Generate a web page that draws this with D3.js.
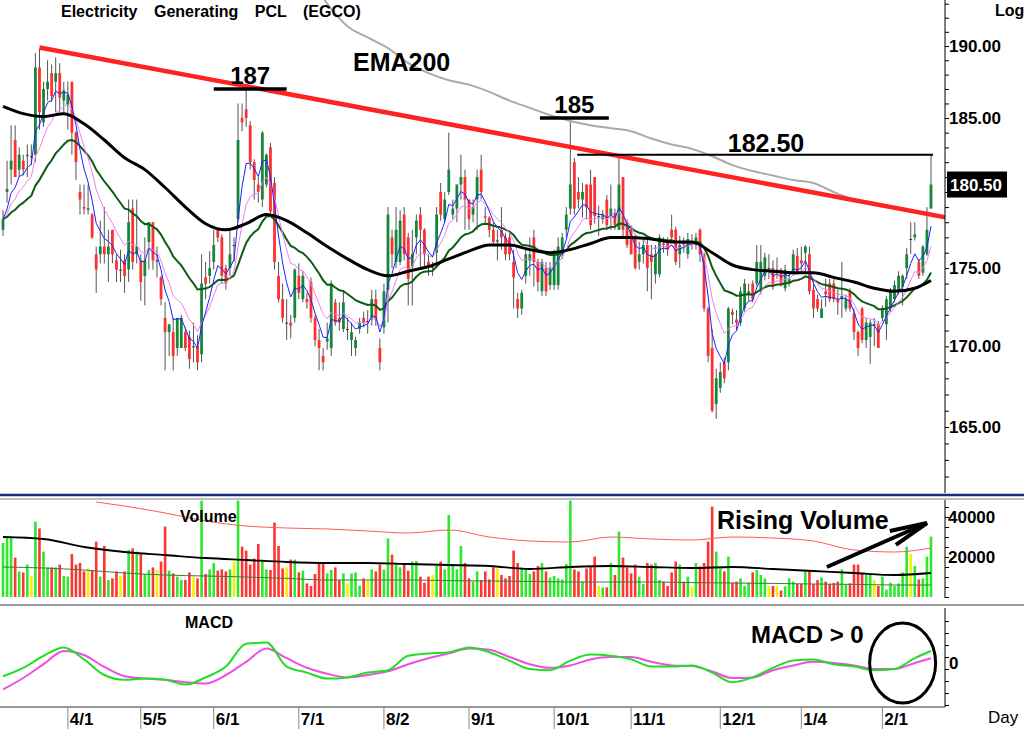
<!DOCTYPE html>
<html>
<head>
<meta charset="utf-8">
<script src="https://cdn.jsdelivr.net/npm/d3@7"></script>
<style>
html, body { margin: 0; padding: 0; background: #fff; }
svg { display: block; font-family: "Liberation Sans", Arial, sans-serif; }
</style>
</head>
<body>
<script>
// daily OHLC, one entry per trading day
const opens = [
177.5,180.0,181.5,183.5,181.5,182.1,182.4,182.4,182.5,188.5,184.7,187.0,188.1,187.5,188.1,186.2,185.9,187.5,184.0,180.0,
179.0,178.9,178.5,175.9,175.9,176.4,175.9,177.5,175.5,174.9,175.5,174.9,178.9,175.9,175.5,174.5,176.7,178.0,175.5,174.4,
171.8,170.9,170.9,169.9,169.9,170.9,170.6,170.0,170.0,169.5,174.4,174.5,175.4,177.5,177.0,175.0,175.0,176.5,178.2,185.0,
185.6,184.5,182.0,180.5,179.5,180.5,183.0,180.6,174.5,173.0,171.5,171.5,171.8,174.5,173.0,173.0,174.1,171.8,170.4,169.4,
170.3,169.9,172.8,171.8,171.1,171.1,170.4,169.9,171.1,171.8,171.6,171.7,173.0,169.9,171.2,173.6,177.0,175.4,175.4,178.5,
177.0,175.1,177.0,178.5,177.5,175.4,175.1,176.0,180.0,178.2,180.0,178.5,178.9,180.5,181.0,179.5,178.5,179.5,181.5,178.4,
178.3,177.5,176.8,177.5,177.0,177.0,175.4,173.0,172.4,174.5,175.5,177.0,175.4,173.5,175.0,173.9,173.9,173.9,175.9,177.5,
178.9,182.0,180.0,179.5,180.5,180.5,181.0,178.4,178.2,179.5,178.5,178.6,177.5,181.0,178.0,177.5,176.9,175.4,175.9,176.5,
175.9,174.6,174.6,176.6,176.7,177.5,177.5,175.9,176.6,175.9,176.7,176.5,177.5,175.9,172.4,169.9,166.4,167.4,169.0,169.0,
172.2,171.7,171.5,172.4,173.3,174.0,174.0,173.5,174.5,175.0,175.0,174.9,174.9,173.7,174.1,174.7,175.8,175.5,176.0,175.9,
173.6,173.0,171.8,173.5,174.0,174.0,173.0,173.0,172.4,173.5,172.1,170.9,172.4,170.4,170.6,171.4,171.4,171.8,171.4,172.4,
173.0,173.5,173.8,175.0,176.9,177.0,175.4,174.7,175.9,178.9
];
const highs = [
178.8,182.1,184.5,184.5,183.0,182.5,183.2,183.2,189.5,189.8,187.5,189.0,188.7,189.2,188.8,187.5,187.5,187.5,184.1,180.5,
180.5,180.5,178.6,176.4,178.1,179.0,177.5,177.5,175.9,176.2,175.9,179.5,179.5,179.5,175.9,177.0,178.0,178.0,176.4,174.5,
172.8,171.4,171.8,171.8,172.0,171.2,171.0,171.5,170.7,175.9,175.4,176.1,177.5,177.5,177.2,175.2,177.5,177.0,186.0,186.0,
187.2,184.8,182.2,181.0,184.1,182.6,183.3,181.0,175.4,174.0,173.0,172.0,175.0,175.3,174.8,173.4,174.4,172.0,171.1,169.9,
171.5,174.2,173.0,172.8,173.6,171.8,171.5,170.6,171.8,172.2,172.3,173.6,173.6,170.5,174.0,179.0,177.5,179.0,178.8,179.0,
177.3,177.5,178.5,179.0,177.6,175.9,175.4,179.0,180.6,180.0,184.0,179.5,180.5,182.5,181.5,179.5,179.5,181.5,182.5,179.0,
178.4,178.0,177.5,179.0,177.3,177.3,176.2,173.4,173.6,176.2,177.0,177.5,175.6,175.6,175.4,175.4,176.2,177.0,177.3,179.0,
185.0,182.3,181.0,180.6,180.5,181.5,181.0,179.1,178.8,179.8,180.5,178.9,182.3,181.0,178.2,177.8,177.2,176.7,177.0,177.1,
176.5,176.5,177.2,177.0,177.0,178.5,177.7,177.1,177.0,177.3,177.2,177.3,177.6,176.0,172.5,171.1,168.6,169.0,169.3,172.5,
172.4,172.3,173.8,174.3,174.0,174.2,176.5,176.5,176.0,175.9,175.5,175.7,175.0,175.2,174.6,176.2,176.3,176.4,176.5,176.4,
174.1,173.3,173.0,174.3,174.3,174.3,173.6,175.4,173.3,173.7,172.4,171.0,172.5,171.8,171.7,171.8,171.6,172.6,173.2,173.7,
174.2,174.8,174.6,176.3,178.0,178.0,175.6,176.5,179.0,182.5
];
const lows = [
177.1,179.3,180.5,181.0,181.0,181.1,181.0,181.8,182.0,184.2,184.4,186.2,186.1,185.4,185.4,185.3,184.2,182.5,180.8,178.5,
178.5,178.5,176.9,173.4,175.3,175.3,174.1,175.3,174.1,174.1,173.4,174.1,174.9,175.3,172.9,172.6,174.9,174.9,174.4,172.6,
168.5,169.4,168.5,169.4,169.9,169.7,168.6,169.0,168.5,169.0,173.0,174.0,174.9,176.7,174.0,173.6,174.5,175.4,178.0,184.1,
184.4,181.5,179.5,179.3,179.0,180.3,178.5,174.9,172.8,171.5,170.4,170.5,171.5,173.0,172.8,172.4,171.5,170.0,168.5,168.5,
169.8,169.4,171.3,171.0,170.9,170.4,169.4,169.4,170.8,171.2,170.8,171.3,171.3,168.5,170.8,171.5,175.0,175.0,175.2,175.5,
172.6,172.6,175.9,175.0,175.1,174.5,174.5,175.0,178.1,178.0,179.8,178.2,178.0,179.5,177.5,177.5,178.0,177.5,179.5,177.9,
177.0,176.5,175.5,176.2,175.5,175.5,172.4,171.8,172.0,174.0,174.5,173.8,173.5,173.2,173.2,173.6,173.6,173.6,175.6,177.0,
178.5,178.5,178.9,178.3,178.2,177.5,177.9,177.1,177.9,177.5,177.5,177.5,177.5,176.9,176.3,175.9,174.9,174.9,175.3,173.5,
173.0,174.0,174.4,176.0,175.8,176.7,175.2,175.0,176.0,175.6,176.2,176.2,175.4,172.2,169.0,165.9,165.5,167.1,167.7,168.5,
171.4,171.0,171.3,172.2,172.9,172.8,173.8,173.3,174.2,174.3,173.6,174.3,173.8,173.5,173.8,174.5,174.6,174.7,174.7,173.3,
171.8,172.2,171.8,172.5,172.8,172.8,172.0,171.8,172.2,172.2,170.4,169.4,170.2,169.9,168.9,170.0,169.9,171.6,170.4,172.2,
172.8,173.3,172.6,174.3,175.9,176.8,174.3,174.5,175.8,178.9
];
const closes = [
178.2,180.2,182.1,181.0,182.5,181.5,182.5,182.4,188.5,185.4,187.0,187.5,186.5,188.1,186.4,186.9,186.6,184.0,182.0,179.5,
178.9,178.9,177.0,174.9,176.4,175.9,176.4,175.9,174.9,174.9,174.5,178.0,175.4,176.4,174.1,175.5,178.0,175.5,175.5,173.0,
170.9,171.4,169.4,171.8,171.8,169.9,169.2,170.0,169.0,174.0,174.0,175.0,176.5,177.0,174.5,174.0,175.9,176.5,183.5,184.7,
185.0,182.0,180.8,180.0,184.0,182.5,178.7,175.4,173.0,171.8,171.5,171.3,174.9,173.4,174.5,172.8,171.8,170.4,169.9,169.0,
170.5,174.0,171.5,171.5,172.8,171.1,170.9,170.4,171.5,171.5,171.6,173.0,171.7,169.0,173.5,178.5,175.9,177.5,178.1,175.9,
174.3,175.9,178.1,177.5,175.9,175.1,175.1,178.5,178.5,179.5,181.5,178.9,180.5,181.0,179.5,178.2,179.0,181.0,180.0,178.3,
177.5,176.7,176.8,177.0,175.9,175.9,174.4,172.4,173.4,175.9,175.9,175.4,174.1,175.4,173.5,175.0,175.9,176.4,177.0,178.5,
180.5,178.9,179.5,180.0,179.0,177.8,178.4,178.4,178.5,177.8,178.9,177.8,180.5,177.5,176.5,175.9,175.0,175.9,176.5,175.0,
175.4,175.9,177.0,176.5,176.2,177.0,175.4,176.5,176.5,176.9,176.7,177.0,175.9,172.4,169.4,166.0,168.0,168.4,168.0,172.4,
172.0,171.5,173.5,174.0,173.5,173.0,175.4,175.4,175.7,175.0,173.8,174.9,174.0,174.9,174.3,175.9,174.7,175.3,176.4,173.5,
172.4,172.4,172.4,173.3,173.0,173.0,172.8,173.2,173.0,172.4,170.9,169.9,170.4,171.5,171.5,171.4,169.9,172.4,173.0,173.5,
173.9,174.5,174.5,175.9,176.9,177.2,174.5,176.4,177.5,180.5
];
const volumes = [
27000,30200,30300,19700,12800,12300,16200,10500,37700,34300,22700,14800,14800,14800,16200,10500,10200,21500,16200,17000,
12800,14300,13500,27700,10200,25500,8500,9300,12800,10500,12800,23500,24300,22700,21800,11500,13500,14800,13500,17700,
35200,13200,11800,10200,8500,8500,12300,10200,9300,48200,11500,13800,17000,13200,13800,12800,13800,17700,48200,25200,
23200,16200,19200,26500,18700,13800,13500,37200,25500,14300,14800,18700,18700,12300,13200,6800,5500,11500,17000,17000,
11800,13500,14800,8500,11800,6800,11800,12300,5700,9300,8500,13800,12800,16200,13800,29300,21200,17200,14800,17000,
13200,17700,18000,10200,7200,10200,11000,15500,17700,13800,41000,16500,13800,25500,17000,9300,7700,12800,8500,12800,
8800,14800,14300,11000,9300,10500,23200,17000,14800,13800,11500,12800,15500,17000,12800,9800,10500,9300,8800,16500,
48200,13800,12800,7700,14300,15500,20200,5500,4800,4800,17000,11000,32700,19700,14800,11800,16200,10200,6500,17000,
16200,17000,8500,7700,5500,12300,17700,16200,7700,10200,5300,17000,15300,17000,27700,45200,22700,14300,12800,20200,
7200,7700,9300,5500,7200,12300,13500,11000,9300,5300,5500,5500,3200,5300,9300,7700,6500,6500,13200,13200,
6500,8500,9800,7700,6500,7000,7700,13800,6500,6800,16200,16200,11500,11000,11500,8500,5500,10200,3700,7200,
5500,6800,12300,25200,21500,15500,8800,9300,20200,30200
];

// sampled indicator lines (bar index -> value)
const lineIdx = [0,5,10,15,20,25,30,35,40,45,50,55,60,65,70,75,80,85,90,95,100,105,110,115,120,
  125,130,135,140,145,150,155,160,165,170,175,180,185,190,195,200,205,210,215,220,225,229];
const maBlack = [185.8,185.3,185.1,185.3,184.6,183.5,182.3,181.5,180.3,179.0,177.9,177.5,177.9,178.5,178.1,
  177.3,176.4,175.6,174.9,174.5,174.8,175.1,175.6,176.1,176.5,176.5,176.2,176.0,176.2,176.6,177.0,177.0,
  176.9,176.7,176.7,176.0,175.2,174.9,174.8,174.7,174.7,174.4,174.1,173.7,173.5,173.7,174.2];
const macdLine = [-1.1,-0.4,0.6,1.3,0.3,-1.0,-1.4,-1.3,-1.4,-1.8,-1.2,-0.3,1.6,1.7,-0.3,-0.8,-1.3,-1.2,-0.8,
  -0.6,0.6,0.8,0.9,1.3,0.9,0.2,-0.5,-0.6,0.2,0.7,0.6,0.3,-0.3,-0.3,-0.2,-0.8,-1.6,-1.2,-0.4,0.2,0.3,-0.1,
  -0.3,-0.6,-0.5,0.4,1.0];
const macdSignal = [-2.2,-1.25,-0.1,1.0,0.67,-0.33,-1.1,-1.3,-1.4,-1.6,-1.7,-1.0,0.1,1.2,0.4,-0.4,-0.9,-1.2,
  -1.0,-0.7,-0.1,0.4,0.8,1.2,1.1,0.5,-0.1,-0.4,-0.2,0.3,0.5,0.5,0.1,-0.2,-0.25,-0.7,-1.25,-1.2,-0.6,-0.2,
  0.1,0.0,-0.2,-0.5,-0.5,0.0,0.4];

const emaIdx = [75,80,85,90,95,100,105,110,115,120,125,130,135,140,145,150,155,160,165,170,175,180,185,190,
  195,200,205,210,215,220,225,229];
const ema200 = [195.4,193.0,191.4,190.6,189.85,188.8,188.1,187.6,187.3,186.8,186.2,185.7,185.2,184.8,184.5,
  184.3,184.1,183.6,183.2,182.9,182.4,181.8,181.4,181.1,180.8,180.6,180.0,179.5,179.2,178.9,178.7,178.6];

const volLineIdx = [0,10,20,30,40,50,60,70,80,90,100,110,120,130,140,150,160,170,180,190,200,210,220,229];
const volAvgBlack = [30000,29000,25000,22500,21000,19500,18500,17500,17000,17000,16500,16000,15500,14000,
  15000,15500,15000,14500,15000,14000,13000,12000,11000,12000];
const volAvgGreen = [15000,14500,13500,12000,11000,10500,10000,9300,8500,8500,8500,8200,8000,7800,7500,7500,
  7500,7200,7000,6800,6500,6300,6000,6000];
const volRedIdx = [23,30,40,50,60,70,80,90,100,110,120,130,140,150,160,170,180,190,200,210,220,229];
const volRed = [47500,45500,42000,38000,35500,34500,34000,33000,32000,33500,30000,28000,27500,30000,29000,
  28500,30000,29500,28000,23500,22500,24500];

const trendIdx = [9, 233];
const trendVal = [189.9, 178.3];

const levelVals = [187, 185, 182.5];
const levelLabels = ['187', '185', '182.50'];
const levelFrom = [52, 132.5, 141.7];
const levelTo = [70, 149.5, 229.5];

const monthIdx = [16, 34, 52, 73, 94, 115, 136, 155, 177, 197, 217];
const monthLabels = ['4/1', '5/5', '6/1', '7/1', '8/2', '9/1', '10/1', '11/1', '12/1', '1/4', '2/1'];
const priceTicks = [165, 170, 175, 185, 190];
const volTicks = [20000, 40000];
const lastPrice = 180.5;

const width = 1024;
const height = 729;
const axisX = 945;

const svg = d3.select('body')
    .append('svg')
    .attr('width', width)
    .attr('height', height);

const defs = svg.append('defs');
const clip = (id, x, y, w, h) => defs.append('clipPath').attr('id', id)
    .append('rect').attr('x', x).attr('y', y).attr('width', w).attr('height', h);
clip('cp', 0, 0, axisX, 493);
clip('cv', 0, 500, axisX, 98);
clip('cm', 0, 608, axisX, 99);

const xScale = d3.scaleLinear().domain([0, closes.length - 1]).range([3, 931]);
const yScale = d3.scaleLog().domain([165, 190]).range([427, 46]);
const vScale = d3.scaleLinear().domain([0, 40000]).range([597, 517]);
const mScale = d3.scaleLinear().domain([-2, 2]).range([687, 639]);

const ema = (arr, n) => {
    const k = 2 / (n + 1);
    let prev = arr[0];
    return arr.map((v, i) => (prev = i === 0 ? v : v * k + prev * (1 - k)));
};

const bars = closes.map((c, i) => ({ i, o: opens[i], h: highs[i], l: lows[i], c, v: volumes[i] }));
const dir = d => d.c > d.o ? 1 : d.c < d.o ? -1 : 0;

// ---- price panel
const gP = svg.append('g').attr('clip-path', 'url(#cp)');

gP.selectAll('line.wick')
    .data(bars)
    .enter()
    .append('line')
    .attr('x1', d => xScale(d.i))
    .attr('x2', d => xScale(d.i))
    .attr('y1', d => yScale(d.h))
    .attr('y2', d => yScale(d.l))
    .attr('stroke', '#555')
    .attr('stroke-width', 1);

gP.selectAll('rect.body')
    .data(bars)
    .enter()
    .append('rect')
    .attr('x', d => xScale(d.i) - 1.4)
    .attr('width', 2.8)
    .attr('y', d => yScale(Math.max(d.o, d.c)))
    .attr('height', d => Math.max(1, Math.abs(yScale(d.o) - yScale(d.c))))
    .attr('fill', d => dir(d) > 0 ? '#16863a' : dir(d) < 0 ? '#ff3030' : '#333');

const priceLine = d3.line().x(d => xScale(d[0])).y(d => yScale(d[1]));
const maLine = (vals, color, w) => gP.append('path')
    .attr('d', priceLine(vals.map((v, i) => [i, v])))
    .attr('fill', 'none').attr('stroke', color).attr('stroke-width', w);

maLine(ema(closes, 25), '#0d5c14', 2);
maLine(ema(closes, 10), '#f27ef2', 1);
maLine(ema(closes, 5), '#2020ff', 1);

gP.append('path')
    .attr('d', priceLine.curve(d3.curveMonotoneX)(lineIdx.map((d, i) => [d, maBlack[i]])))
    .attr('fill', 'none').attr('stroke', '#000').attr('stroke-width', 3);

gP.append('path')
    .attr('d', priceLine.curve(d3.curveMonotoneX)(emaIdx.map((d, i) => [d, ema200[i]])))
    .attr('fill', 'none').attr('stroke', '#aaa').attr('stroke-width', 2);

gP.append('line')
    .attr('x1', xScale(trendIdx[0])).attr('y1', yScale(trendVal[0]))
    .attr('x2', xScale(trendIdx[1])).attr('y2', yScale(trendVal[1]))
    .attr('stroke', '#ff2222').attr('stroke-width', 4.5);

levelVals.forEach((v, k) => {
    const thin = k === 2;
    gP.append('line')
        .attr('x1', xScale(levelFrom[k])).attr('x2', xScale(levelTo[k]))
        .attr('y1', yScale(v)).attr('y2', yScale(v))
        .attr('stroke', '#000').attr('stroke-width', thin ? 2 : 3.5);
    svg.append('text')
        .attr('x', thin ? 766 : (xScale(levelFrom[k]) + xScale(levelTo[k])) / 2)
        .attr('y', yScale(v) - (thin ? 3 : 5))
        .attr('text-anchor', 'middle')
        .attr('font-size', thin ? 25 : 24).attr('font-weight', 'bold')
        .text(levelLabels[k]);
});

svg.append('text').attr('x', 353).attr('y', 71)
    .attr('font-size', 25).attr('font-weight', 'bold').text('EMA200');

svg.append('text').attr('x', 61).attr('y', 17)
    .attr('font-size', 16).attr('font-weight', 'bold').attr('word-spacing', 12)
    .text('Electricity Generating PCL (EGCO)');

svg.append('text').attr('x', 995).attr('y', 16)
    .attr('font-size', 16).attr('font-weight', 'bold').text('Log');

// price axis
svg.append('line').attr('x1', axisX).attr('x2', axisX).attr('y1', 0).attr('y2', 493)
    .attr('stroke', '#000');
svg.append('g')
    .attr('transform', `translate(${axisX}, 0)`)
    .call(d3.axisRight(yScale).tickValues(d3.range(162, 194)).tickSize(4).tickFormat(''))
    .call(g => g.select('.domain').remove());
svg.append('g')
    .attr('transform', `translate(${axisX}, 0)`)
    .call(d3.axisRight(yScale).tickValues(priceTicks).tickSize(0).tickPadding(4).tickFormat(d3.format('.2f')))
    .call(g => g.select('.domain').remove())
    .call(g => g.selectAll('text').attr('font-size', 17).attr('font-weight', 'bold')
        .attr('font-family', '"Liberation Sans", Arial, sans-serif').attr('fill', '#000'));

svg.append('rect').attr('x', 947).attr('y', yScale(lastPrice) - 13)
    .attr('width', 60).attr('height', 26).attr('fill', '#000');
svg.append('text').attr('x', 950).attr('y', yScale(lastPrice)).attr('dy', '0.36em')
    .attr('font-size', 17).attr('font-weight', 'bold').attr('fill', '#fff')
    .text(d3.format('.2f')(lastPrice));

// panel separators
svg.append('line').attr('x1', 0).attr('x2', width).attr('y1', 495).attr('y2', 495)
    .attr('stroke', '#1c2a7c').attr('stroke-width', 2.5);
svg.append('line').attr('x1', 0).attr('x2', width).attr('y1', 499).attr('y2', 499)
    .attr('stroke', '#aaa').attr('stroke-width', 1.5);
svg.append('line').attr('x1', 0).attr('x2', width).attr('y1', 605).attr('y2', 605)
    .attr('stroke', '#999').attr('stroke-width', 2);

// ---- volume panel
const gV = svg.append('g').attr('clip-path', 'url(#cv)');
gV.selectAll('rect')
    .data(bars)
    .enter()
    .append('rect')
    .attr('x', d => xScale(d.i) - 1.3)
    .attr('width', 2.6)
    .attr('y', d => vScale(d.v))
    .attr('height', d => vScale(0) - vScale(d.v))
    .attr('fill', d => dir(d) > 0 ? '#2ee82e' : dir(d) < 0 ? '#ff3535' : '#f2f200');

const volLine = d3.line().x(d => xScale(d[0])).y(d => vScale(d[1])).curve(d3.curveMonotoneX);
gV.append('path').attr('d', volLine(volRedIdx.map((d, i) => [d, volRed[i]])))
    .attr('fill', 'none').attr('stroke', '#ff5a5a').attr('stroke-width', 1);
gV.append('path').attr('d', volLine(volLineIdx.map((d, i) => [d, volAvgBlack[i]])))
    .attr('fill', 'none').attr('stroke', '#000').attr('stroke-width', 1.8);
gV.append('path').attr('d', volLine(volLineIdx.map((d, i) => [d, volAvgGreen[i]])))
    .attr('fill', 'none').attr('stroke', '#3d7a3d').attr('stroke-width', 1);

svg.append('line').attr('x1', axisX).attr('x2', axisX).attr('y1', 500).attr('y2', 598)
    .attr('stroke', '#000');
svg.append('g')
    .attr('transform', `translate(${axisX}, 0)`)
    .call(d3.axisRight(vScale).tickValues(d3.range(0, 50000, 5000)).tickSize(4).tickFormat(''))
    .call(g => g.select('.domain').remove());
svg.append('g')
    .attr('transform', `translate(${axisX}, 0)`)
    .call(d3.axisRight(vScale).tickValues(volTicks).tickSize(0).tickPadding(3).tickFormat(d3.format('d')))
    .call(g => g.select('.domain').remove())
    .call(g => g.selectAll('text').attr('font-size', 17).attr('font-weight', 'bold')
        .attr('font-family', '"Liberation Sans", Arial, sans-serif').attr('fill', '#000'));

svg.append('text').attr('x', 180).attr('y', 522)
    .attr('font-size', 16).attr('font-weight', 'bold').text('Volume');
svg.append('text').attr('x', 717).attr('y', 529)
    .attr('font-size', 25).attr('font-weight', 'bold').text('Rising Volume');

// arrow
const ax1 = xScale(203.3), ay1 = vScale(15000), ax2 = xScale(228), ay2 = vScale(37000);
const ang = Math.atan2(ay1 - ay2, ax1 - ax2);
const head = [ang + 0.2, ang - 0.2].map(a => [ax2 + 38 * Math.cos(a), ay2 + 38 * Math.sin(a)]);
svg.append('line').attr('x1', ax1).attr('y1', ay1).attr('x2', ax2).attr('y2', ay2)
    .attr('stroke', '#000').attr('stroke-width', 4);
svg.append('polyline')
    .attr('points', [head[0], [ax2, ay2], head[1]].map(p => p.join(',')).join(' '))
    .attr('fill', 'none').attr('stroke', '#000').attr('stroke-width', 4)
    .attr('stroke-linejoin', 'miter');

// ---- MACD panel
const gM = svg.append('g').attr('clip-path', 'url(#cm)');
const macdPath = d3.line().x(d => xScale(d[0])).y(d => mScale(d[1])).curve(d3.curveMonotoneX);
gM.append('path').attr('d', macdPath(lineIdx.map((d, i) => [d, macdSignal[i]])))
    .attr('fill', 'none').attr('stroke', '#ee4ee6').attr('stroke-width', 2);
gM.append('path').attr('d', macdPath(lineIdx.map((d, i) => [d, macdLine[i]])))
    .attr('fill', 'none').attr('stroke', '#22dd22').attr('stroke-width', 2);

svg.append('line').attr('x1', axisX).attr('x2', axisX).attr('y1', 608).attr('y2', 707)
    .attr('stroke', '#000');
svg.append('g')
    .attr('transform', `translate(${axisX}, 0)`)
    .call(d3.axisRight(mScale).tickValues(d3.range(-3.5, 4.5, 1)).tickSize(4).tickFormat(''))
    .call(g => g.select('.domain').remove());
svg.append('text').attr('x', 949).attr('y', mScale(0)).attr('dy', '0.36em')
    .attr('font-size', 17).attr('font-weight', 'bold').text('0');

svg.append('text').attr('x', 185).attr('y', 628)
    .attr('font-size', 16).attr('font-weight', 'bold').text('MACD');
svg.append('text').attr('x', 751).attr('y', 643)
    .attr('font-size', 24).attr('font-weight', 'bold').text('MACD > 0');

svg.append('ellipse')
    .attr('cx', xScale(222)).attr('cy', mScale(0))
    .attr('rx', 33).attr('ry', 40)
    .attr('fill', 'none').attr('stroke', '#000').attr('stroke-width', 3);

// ---- time axis
svg.append('line').attr('x1', 0).attr('x2', axisX).attr('y1', 707).attr('y2', 707)
    .attr('stroke', '#333').attr('stroke-width', 1.2);

const xAxis = svg.append('g');
xAxis.selectAll('line')
    .data(monthIdx)
    .enter()
    .append('line')
    .attr('x1', d => xScale(d)).attr('x2', d => xScale(d))
    .attr('y1', 707).attr('y2', 729)
    .attr('stroke', '#888');
xAxis.selectAll('text')
    .data(monthIdx)
    .enter()
    .append('text')
    .attr('x', d => xScale(d) + 2)
    .attr('y', 725)
    .attr('font-size', 17).attr('font-weight', 'bold')
    .text((d, i) => monthLabels[i]);

svg.append('text').attr('x', 988).attr('y', 723)
    .attr('font-size', 17).text('Day');
</script>
</body>
</html>
